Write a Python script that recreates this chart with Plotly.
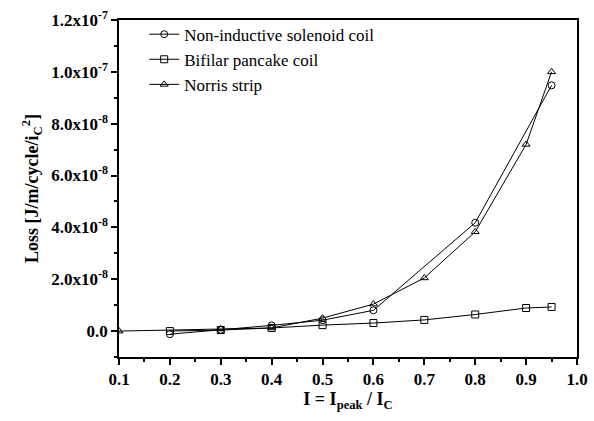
import plotly.graph_objects as go

# Data
sol_x = [0.2, 0.3, 0.4, 0.5, 0.6, 0.8, 0.95]
sol_y = [-1.2e-9, 5e-10, 2.2e-9, 4.2e-9, 8.0e-9, 4.18e-8, 9.48e-8]

pan_x = [0.2, 0.3, 0.4, 0.5, 0.6, 0.7, 0.8, 0.9, 0.95]
pan_y = [0.0, 4e-10, 1.2e-9, 2.3e-9, 3.1e-9, 4.3e-9, 6.4e-9, 8.9e-9, 9.3e-9]

nor_x = [0.1, 0.3, 0.4, 0.5, 0.6, 0.7, 0.8, 0.9, 0.95]
nor_y = [0.0, 8e-10, 1.2e-9, 5.0e-9, 1.04e-8, 2.05e-8, 3.83e-8, 7.2e-8, 1.0e-7]

y_tickvals = [0.0, 2e-8, 4e-8, 6e-8, 8e-8, 1.0e-7, 1.2e-7]
y_ticktext = ["0.0", "2.0x10<sup>-8</sup>", "4.0x10<sup>-8</sup>", "6.0x10<sup>-8</sup>",
              "8.0x10<sup>-8</sup>", "1.0x10<sup>-7</sup>", "1.2x10<sup>-7</sup>"]
x_tickvals = [0.1, 0.2, 0.3, 0.4, 0.5, 0.6, 0.7, 0.8, 0.9, 1.0]
x_ticktext = ["0.1", "0.2", "0.3", "0.4", "0.5", "0.6", "0.7", "0.8", "0.9", "1.0"]

FONT = "Liberation Serif"

fig = go.Figure()
series = [
    ("Non-inductive solenoid coil", sol_x, sol_y, "circle-open"),
    ("Bifilar pancake coil", pan_x, pan_y, "square-open"),
    ("Norris strip", nor_x, nor_y, "triangle-up-open"),
]
for name, xs, ys, sym in series:
    fig.add_trace(go.Scatter(
        x=xs, y=ys, name=name, mode="lines+markers",
        line=dict(color="black", width=1),
        marker=dict(symbol=sym, size=7, color="black", line=dict(color="black", width=1)),
    ))

fig.update_layout(
    width=594, height=421,
    margin=dict(l=119, r=17, t=20, b=64, autoexpand=False),
    paper_bgcolor="white", plot_bgcolor="white",
    font=dict(family=FONT, color="black"),
    showlegend=True,
    legend=dict(x=0.055, y=1.01, xanchor="left", yanchor="top",
                bgcolor="rgba(0,0,0,0)", font=dict(size=17, family=FONT),
                tracegroupgap=0, itemwidth=30),
    xaxis=dict(
        range=[0.1, 1.0], tickvals=x_tickvals, ticktext=x_ticktext,
        ticks="outside", ticklen=6, tickwidth=1.5, tickcolor="black",
        minor=dict(ticks="outside", ticklen=3, dtick=0.05, tick0=0.1, tickcolor="black"),
        showline=True, linecolor="black", linewidth=1.5, mirror=True,
        showgrid=False, zeroline=False, automargin=False,
        tickfont=dict(size=17, family=FONT, weight="bold"),
        title=dict(text="<b>I = I<sub>peak</sub> / I<sub>C</sub></b>", font=dict(size=18, family=FONT), standoff=4),
    ),
    yaxis=dict(
        range=[-1.0e-8, 1.2e-7], tickvals=y_tickvals, ticktext=y_ticktext,
        ticks="outside", ticklen=6, tickwidth=1.5, tickcolor="black",
        minor=dict(ticks="outside", ticklen=3, dtick=1e-8, tick0=0, tickcolor="black"),
        showline=True, linecolor="black", linewidth=1.5, mirror=True,
        showgrid=False, zeroline=False, automargin=False,
        tickfont=dict(size=17, family=FONT, weight="bold"),
        title=dict(text="<b>Loss [J/m/cycle/i<sub>C</sub><sup>2</sup>]</b>", font=dict(size=18, family=FONT), standoff=8),
    ),
)

fig.write_html("out.html", config={"displayModeBar": False},
               post_script="document.body.style.margin='0';")
